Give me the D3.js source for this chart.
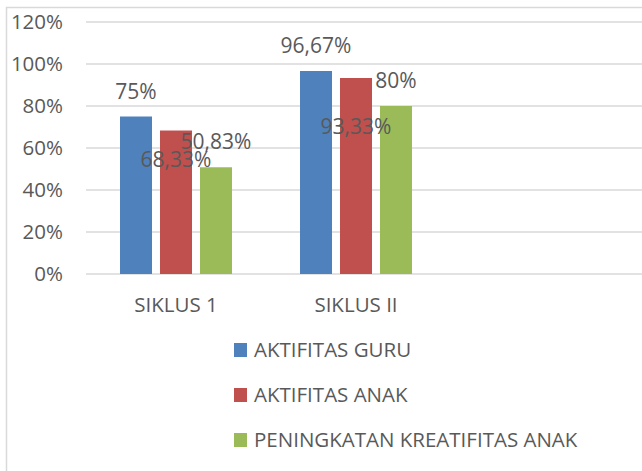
<!DOCTYPE html>
<html>
<head>
<meta charset="utf-8">
<script src="https://cdn.jsdelivr.net/npm/d3@7"></script>
<style>
  body { margin: 0; background: #fff; }
  text { font-family: "Open Sans", sans-serif; fill: #595959; }
</style>
</head>
<body>
<div id="chart_wrapper"></div>
<script>
var categories = ["SIKLUS 1", "SIKLUS II"];
var seriesNames = ["AKTIFITAS GURU", "AKTIFITAS ANAK", "PENINGKATAN KREATIFITAS ANAK"];
var guru = [75, 96.67];
var anak = [68.33, 93.33];
var kreatif = [50.83, 80];
var labelText = [["75%", "96,67%"], ["68,33%", "93,33%"], ["50,83%", "80%"]];
var yTicks = [0, 20, 40, 60, 80, 100, 120];

var width = 642, height = 471;
var colors = ["#4f81bd", "#c0504d", "#9bbb59"];
// data labels that were dragged around in the original (extra dy per series/category)
var labelDy = [[0, 0], [54, 74], [0, 0]];

var values = [guru, anak, kreatif];

var svg = d3.select("#chart_wrapper").append("svg")
    .attr("width", width).attr("height", height);

// chart border (only left and top visible)
svg.append("path").attr("d", "M6.5,471V7.5H642")
    .attr("fill", "none").attr("stroke", "#d9d9d9").attr("stroke-width", 1.5);

var x = d3.scaleBand().domain(categories).range([86, 446]);
var xs = d3.scaleBand().domain(seriesNames).range([34, 146]).paddingInner(0.2);
var y = d3.scaleLinear().domain([0, 120]).range([274, 22]);

// grid lines
svg.append("g").selectAll("line").data(yTicks).enter().append("line")
    .attr("x1", 86).attr("x2", width)
    .attr("y1", d => y(d)).attr("y2", d => y(d))
    .attr("stroke", "#d9d9d9").attr("stroke-width", 1.5);

// y axis labels
svg.append("g").selectAll("text").data(yTicks).enter().append("text")
    .attr("x", 63).attr("y", d => y(d)).attr("dy", "0.35em")
    .attr("text-anchor", "end").style("font-size", "20.5px")
    .text(d => d + "%");

// bars
seriesNames.forEach(function(s, i) {
    var g = svg.append("g").attr("class", "series");
    g.selectAll("rect").data(categories).enter().append("rect")
        .attr("x", (c) => x(c) + xs(s))
        .attr("y", (c, j) => y(values[i][j]))
        .attr("width", xs.bandwidth())
        .attr("height", (c, j) => y(0) - y(values[i][j]))
        .attr("fill", colors[i]);
});

// data labels
seriesNames.forEach(function(s, i) {
    svg.append("g").selectAll("text").data(categories).enter().append("text")
        .attr("x", (c) => x(c) + xs(s) + xs.bandwidth() / 2)
        .attr("y", (c, j) => y(values[i][j]) - 18 + labelDy[i][j])
        .attr("text-anchor", "middle").style("font-size", "21px")
        .text((c, j) => labelText[i][j]);
});

// x axis labels
svg.append("g").selectAll("text").data(categories).enter().append("text")
    .attr("x", c => x(c) + x.bandwidth() / 2).attr("y", 312)
    .attr("text-anchor", "middle").style("font-size", "20.5px")
    .text(c => c);

// legend
var legend = svg.append("g").selectAll("g").data(seriesNames).enter().append("g")
    .attr("transform", (d, i) => "translate(234," + (343 + i * 45) + ")");
legend.append("rect").attr("width", 13).attr("height", 14)
    .attr("fill", (d, i) => colors[i]);
legend.append("text").attr("x", 20).attr("y", 14)
    .style("font-size", "20.5px").text(d => d);
</script>
</body>
</html>
